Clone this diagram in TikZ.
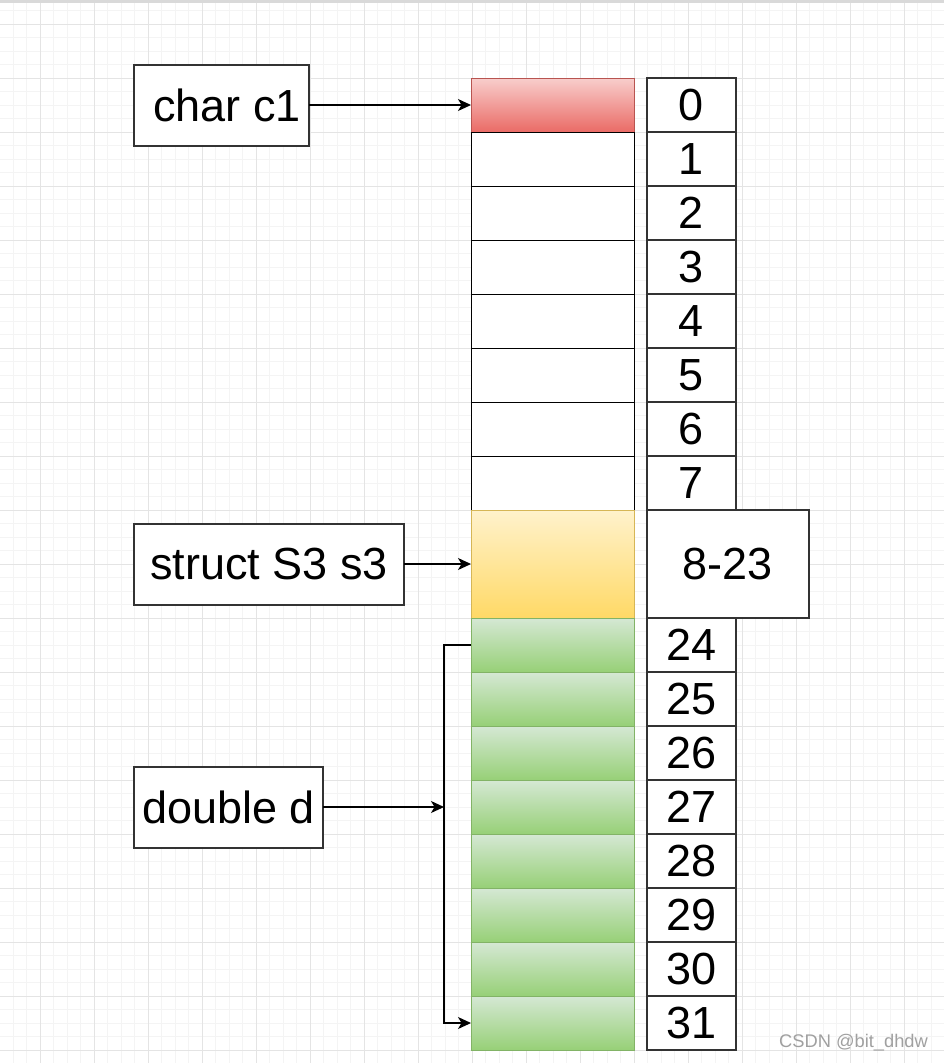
\documentclass[tikz,border=0pt]{standalone}
\usepackage{fontspec}
\setmainfont{Liberation Sans}
\usetikzlibrary{arrows.meta}
\definecolor{gridmajor}{HTML}{E4E4E4}
\definecolor{gridminor}{HTML}{F4F4F4}
\definecolor{topband}{HTML}{D9D9D9}
\definecolor{redtop}{HTML}{F8CECC}
\definecolor{redbot}{HTML}{EA6B66}
\definecolor{redline}{HTML}{B85450}
\definecolor{yeltop}{HTML}{FFF2CC}
\definecolor{yelbot}{HTML}{FFD966}
\definecolor{yelline}{HTML}{D6B656}
\definecolor{grntop}{HTML}{D5E8D4}
\definecolor{grnbot}{HTML}{97D077}
\definecolor{grnline}{HTML}{82B366}
\definecolor{boxline}{HTML}{333333}
\definecolor{wmark}{HTML}{A0A0A0}
\begin{document}
\begin{tikzpicture}[x=1pt,y=-1pt,
  big/.style={font=\fontsize{45pt}{54pt}\selectfont},
  cell/.style={draw=black, line width=1pt, fill=white, minimum width=163pt, minimum height=54pt, inner sep=0pt, outer sep=0pt},
  redcell/.style={cell, draw=redline, top color=redtop, bottom color=redbot},
  yelcell/.style={cell, draw=yelline, top color=yeltop, bottom color=yelbot, minimum height=108pt},
  grncell/.style={cell, draw=grnline, top color=grntop, bottom color=grnbot},
  idx/.style={draw=boxline, line width=1.6pt, fill=white, minimum width=89pt, minimum height=54pt, inner sep=0pt, outer sep=0pt, big},
  lbl/.style={draw=boxline, line width=1.6pt, fill=white, minimum height=81pt, inner sep=0pt, outer sep=0pt, big},
  conn/.style={draw=black, line width=1.2pt, -{Stealth[length=13pt,width=12pt,inset=3.5pt]}},
  plain/.style={draw=black, line width=1.2pt}]
\useasboundingbox (0,0) rectangle (944,1063);
\fill[white] (0,0) rectangle (944,1063);
% grid
\foreach \i in {0,...,70} \draw[gridminor, line width=0.8pt] ({-0.5+13.5*\i},0) -- ({-0.5+13.5*\i},1063);
\foreach \i in {0,...,78} \draw[gridminor, line width=0.8pt] (0,{10.5+13.5*\i}) -- (944,{10.5+13.5*\i});
\foreach \i in {0,...,16} \draw[gridmajor, line width=1pt] ({40+54*\i},0) -- ({40+54*\i},1063);
\foreach \i in {0,...,19} \draw[gridmajor, line width=1pt] (0,{24+54*\i}) -- (944,{24+54*\i});
\fill[topband] (0,0) rectangle (944,3);
% memory cells
\node[redcell] (m0) at (552.5,105) {};
\foreach \k in {1,...,7} \node[cell] (m\k) at (552.5,{105+54*\k}) {};
\node[yelcell] (ms) at (552.5,564) {};
\foreach \k in {24,...,31} \node[grncell] (m\k) at (552.5,{645+54*(\k-24)}) {};
% index cells
\foreach \k in {0,...,7} \node[idx] (i\k) at (691.5,{105+54*\k}) {\k};
\node[idx, minimum width=162pt, minimum height=108pt] (i823) at (728,564) {8-23};
\foreach \k in {24,...,31} \node[idx] (i\k) at (691.5,{645+54*(\k-24)}) {\k};
% labels
\node[lbl, minimum width=175pt] (c1) at (221.5,105.5) {\hspace*{11pt}char c1};
\node[lbl, minimum width=270pt] (s3) at (269,564.5) {struct S3 s3};
\node[lbl, minimum width=189pt] (dd) at (228.5,807.5) {double d};
% connectors
\coordinate (bx) at (444,807);
\draw[conn] (c1.east |- m0.west) -- (m0.west);
\draw[conn] (s3.east |- ms.west) -- (ms.west);
\draw[conn] (m24.west) -- (m24.west -| bx) -- (m31.west -| bx) -- (m31.west);
\draw[conn] (dd.east |- bx) -- (bx);
% watermark
\node[text=wmark, font=\fontsize{18.3pt}{20pt}\selectfont, inner sep=0pt] (wm) at (853.5,1043) {CSDN @bit\_dhdw};
\end{tikzpicture}
\end{document}
